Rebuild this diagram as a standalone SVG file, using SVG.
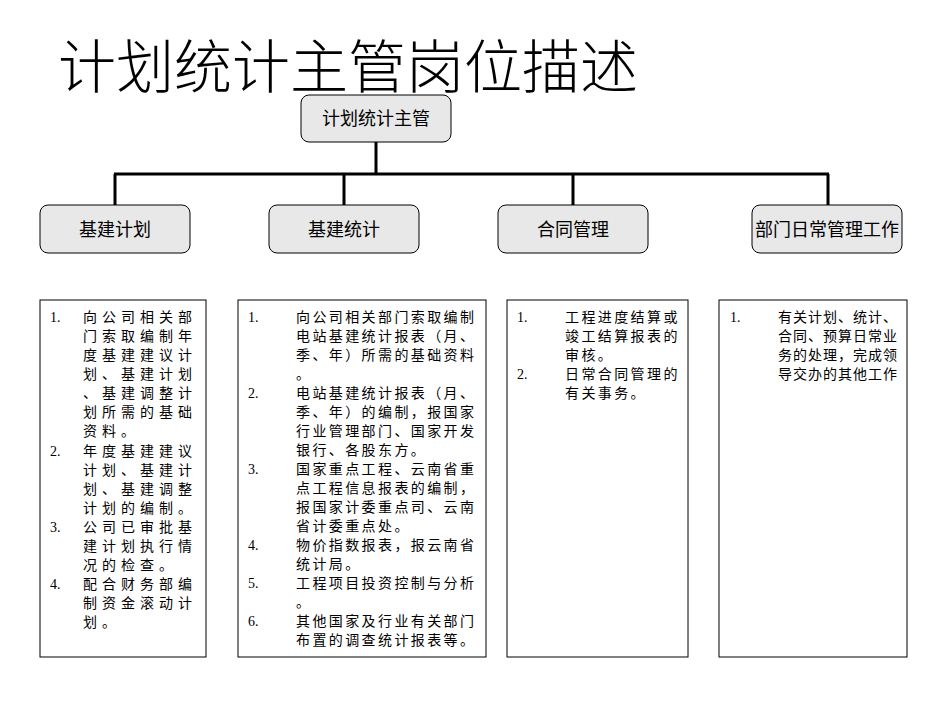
<svg xmlns="http://www.w3.org/2000/svg" width="950" height="713" viewBox="0 0 950 713">
<style>
.n{fill:#e8e8e8;stroke:#000;stroke-width:1}
.l{font-family:"Noto Sans CJK SC",sans-serif;font-size:18px;fill:#000}
.b{fill:#fff;stroke:#000;stroke-width:1}
.t{font-family:"Liberation Serif","Noto Sans CJK SC",serif;font-size:14px;fill:#000}
.t .k{letter-spacing:0}
.c{stroke:#000;stroke-width:3;fill:none}
</style>
<rect width="950" height="713" fill="#fff"/>
<text x="58" y="88" font-family="Noto Sans CJK SC,sans-serif" font-size="58" font-weight="300">计划统计主管岗位描述</text>
<g id="connectors">
<path class="c" d="M376 142V174M114 174H829M115 174V205M344 174V205M573 174V205M828 174V205"/>
</g>
<g id="n0"><rect class="n" x="301" y="95" width="150" height="47" rx="8"/><text class="l" x="376" y="125" text-anchor="middle">计划统计主管</text></g>
<g id="n1"><rect class="n" x="40" y="205" width="150" height="48" rx="8"/><text class="l" x="115" y="236" text-anchor="middle">基建计划</text></g>
<g id="n2"><rect class="n" x="269" y="205" width="150" height="48" rx="8"/><text class="l" x="344" y="236" text-anchor="middle">基建统计</text></g>
<g id="n3"><rect class="n" x="498" y="205" width="150" height="48" rx="8"/><text class="l" x="573" y="236" text-anchor="middle">合同管理</text></g>
<g id="n4"><rect class="n" x="752" y="205" width="150" height="48" rx="8"/><text class="l" x="827" y="236" text-anchor="middle">部门日常管理工作</text></g>
<g id="d1"><rect class="b" x="40" y="300" width="166" height="357"/>
<g class="t" letter-spacing="5">
<text class="k" x="50" y="322">1.</text><text class="k" x="50" y="456">2.</text><text class="k" x="50" y="532">3.</text><text class="k" x="50" y="589">4.</text>
<text x="83" y="322">向公司相关部</text><text x="83" y="341">门索取编制年</text><text x="83" y="360">度基建建议计</text><text x="83" y="379">划、基建计划</text><text x="83" y="398">、基建调整计</text><text x="83" y="417">划所需的基础</text><text x="83" y="436">资料。</text>
<text x="83" y="456">年度基建建议</text><text x="83" y="475">计划、基建计</text><text x="83" y="494">划、基建调整</text><text x="83" y="513">计划的编制。</text>
<text x="83" y="532">公司已审批基</text><text x="83" y="551">建计划执行情</text><text x="83" y="570">况的检查。</text>
<text x="83" y="589">配合财务部编</text><text x="83" y="608">制资金滚动计</text><text x="83" y="627">划。</text>
</g></g>
<g id="d2"><rect class="b" x="238" y="300" width="248" height="357"/>
<g class="t" letter-spacing="2.4">
<text class="k" x="248" y="322">1.</text><text class="k" x="248" y="398">2.</text><text class="k" x="248" y="474">3.</text><text class="k" x="248" y="550">4.</text><text class="k" x="248" y="588">5.</text><text class="k" x="248" y="626">6.</text>
<text x="296" y="322">向公司相关部门索取编制</text><text x="296" y="341">电站基建统计报表（月、</text><text x="296" y="360">季、年）所需的基础资料</text><text x="296" y="379">。</text>
<text x="296" y="398">电站基建统计报表（月、</text><text x="296" y="417">季、年）的编制，报国家</text><text x="296" y="436">行业管理部门、国家开发</text><text x="296" y="455">银行、各股东方。</text>
<text x="296" y="474">国家重点工程、云南省重</text><text x="296" y="493">点工程信息报表的编制，</text><text x="296" y="512">报国家计委重点司、云南</text><text x="296" y="531">省计委重点处。</text>
<text x="296" y="550">物价指数报表，报云南省</text><text x="296" y="569">统计局。</text>
<text x="296" y="588">工程项目投资控制与分析</text><text x="296" y="607">。</text>
<text x="296" y="626">其他国家及行业有关部门</text><text x="296" y="645">布置的调查统计报表等。</text>
</g></g>
<g id="d3"><rect class="b" x="507" y="300" width="181" height="357"/>
<g class="t" letter-spacing="2.4">
<text class="k" x="517" y="322">1.</text><text class="k" x="517" y="379">2.</text>
<text x="565" y="322">工程进度结算或</text><text x="565" y="341">竣工结算报表的</text><text x="565" y="360">审核。</text>
<text x="565" y="379">日常合同管理的</text><text x="565" y="398">有关事务。</text>
</g></g>
<g id="d4"><rect class="b" x="719" y="300" width="188" height="357"/>
<g class="t" letter-spacing="1">
<text class="k" x="730" y="322">1.</text>
<text x="778" y="322">有关计划、统计、</text><text x="778" y="341">合同、预算日常业</text><text x="778" y="360">务的处理，完成领</text><text x="778" y="379">导交办的其他工作</text>
</g></g>
</svg>
